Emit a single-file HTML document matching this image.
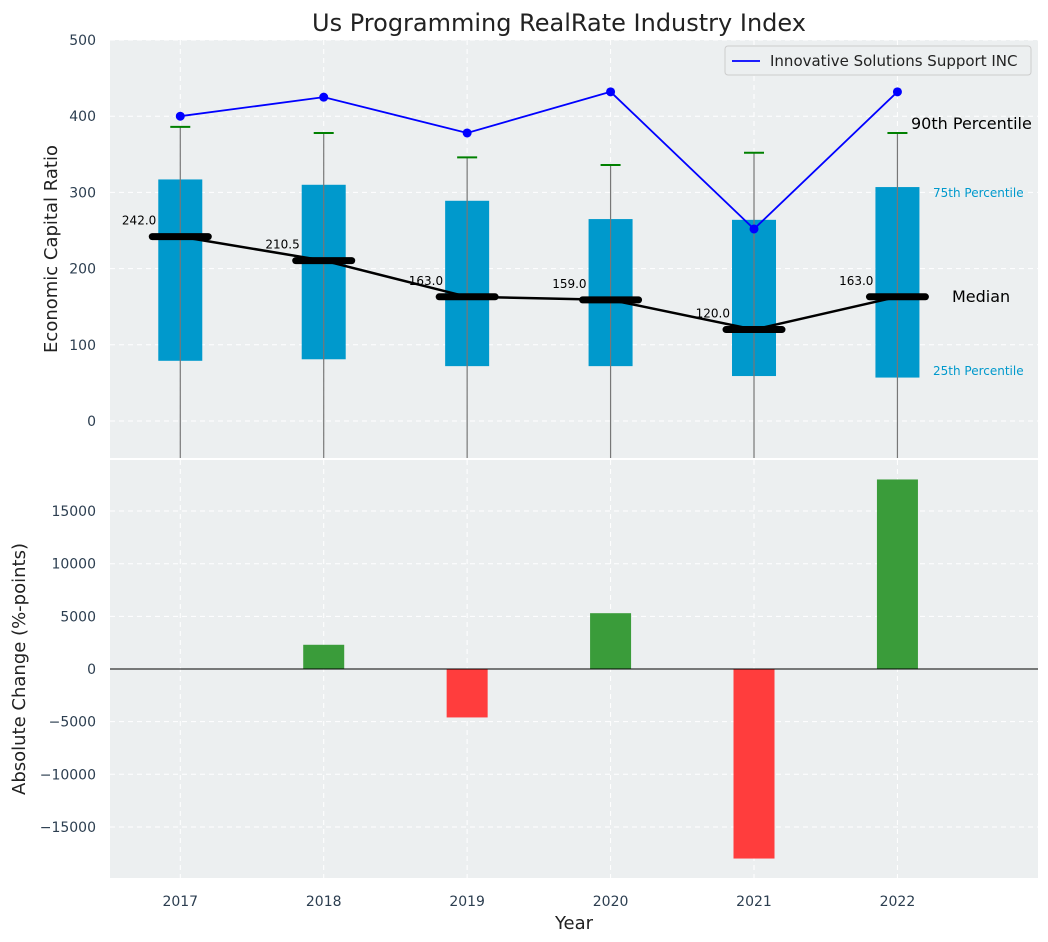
<!DOCTYPE html>
<html><head><meta charset="utf-8"><style>
body{margin:0;background:#fff;font-family:"Liberation Sans","DejaVu Sans",sans-serif;}
svg{display:block}
</style></head><body>
<svg id="c" width="1048" height="942" xmlns="http://www.w3.org/2000/svg" font-family="DejaVu Sans, Liberation Sans, sans-serif">
<text x="559" y="31" font-size="24" text-anchor="middle" fill="#222">Us Programming RealRate Industry Index</text>
<g id="topPanel"></g>
<g id="botPanel"></g>
</svg>
<script>
const years=["2017","2018","2019","2020","2021","2022"];
const q1=[79,81,72,72,59,57];
const q3=[317,310,289,265,264,307];
const med=[242,210.5,163,159,120,163];
const whiskTop=[386,378,346,336,352,378];
const whiskLow=[-120,-120,-120,-120,-120,-120];
const company=[400,425,378,432,252,432];
const changes=[0,2300,-4600,5300,-18000,18000];
const topTicks=[0,100,200,300,400,500];
const botTicks=[-15000,-10000,-5000,0,5000,10000,15000];

const NS="http://www.w3.org/2000/svg";
const L=110,R=1038;
const x=i=>L+(i+0.49)*(R-L)/6.47;
const yT=v=>421-v*0.762;
const yB=v=>669-v*0.01053;
function el(p,t,a,txt){const e=document.createElementNS(NS,t);for(const k in a)e.setAttribute(k,a[k]);if(txt!==undefined)e.textContent=txt;p.appendChild(e);return e;}
const topG=document.getElementById('topPanel'),botG=document.getElementById('botPanel');

let bg=el(topG,'rect',{x:L,y:40,width:R-L,height:418,fill:'#eceff0'});


let bg2=el(botG,'rect',{x:L,y:460,width:R-L,height:418,fill:'#eceff0'});



topTicks.forEach(v=>{
  el(topG,'line',{x1:L,x2:R,y1:yT(v),y2:yT(v),stroke:'#fff','stroke-dasharray':'5,4','stroke-width':1});
  let t=el(topG,'text',{x:96,y:yT(v)+5,'font-size':14,'text-anchor':'end',fill:'#2c3e50'},v);
  
  
});
botTicks.forEach(v=>{
  el(botG,'line',{x1:L,x2:R,y1:yB(v),y2:yB(v),stroke:'#fff','stroke-dasharray':'5,4','stroke-width':1});
  let t=el(botG,'text',{x:96,y:yB(v)+5,'font-size':14,'text-anchor':'end',fill:'#2c3e50'},v<0?'\u2212'+(-v):v);
  
  
});
years.forEach((yv,i)=>{
  el(topG,'line',{x1:x(i),x2:x(i),y1:40,y2:458,stroke:'#fff','stroke-dasharray':'5,4'});
  el(botG,'line',{x1:x(i),x2:x(i),y1:460,y2:878,stroke:'#fff','stroke-dasharray':'5,4'});
  let t=el(botG,'text',{x:x(i),y:906,'font-size':14,'text-anchor':'middle',fill:'#2c3e50'},yv);
  
  
});

const clipTop=el(topG,'clipPath',{id:'ct'});el(clipTop,'rect',{x:L,y:40,width:R-L,height:418});
const g=el(topG,'g',{'clip-path':'url(#ct)'});
years.forEach((yv,i)=>{
  let b=el(g,'rect',{x:x(i)-22,y:yT(q3[i]),width:44,height:yT(q1[i])-yT(q3[i]),fill:'#0099cc'});
  
  
  el(g,'line',{x1:x(i),x2:x(i),y1:yT(whiskTop[i]),y2:yT(whiskLow[i]),stroke:'#777','stroke-width':1.2});
  let c=el(g,'line',{x1:x(i)-10,x2:x(i)+10,y1:yT(whiskTop[i]),y2:yT(whiskTop[i]),stroke:'green','stroke-width':2});
  
  
});
el(g,'polyline',{points:med.map((v,i)=>x(i)+','+yT(v)).join(' '),fill:'none',stroke:'#000','stroke-width':2.5});
years.forEach((yv,i)=>{
  let m=el(g,'line',{x1:x(i)-28,x2:x(i)+28,y1:yT(med[i]),y2:yT(med[i]),stroke:'#000','stroke-width':7,'stroke-linecap':'round'});
  
  
  let t=el(g,'text',{x:x(i)-24,y:yT(med[i])-12,'font-size':12,'text-anchor':'end',fill:'#000'},med[i].toFixed(1));
  
  
});
let cl=el(g,'polyline',{points:company.map((v,i)=>x(i)+','+yT(v)).join(' '),fill:'none',stroke:'blue','stroke-width':1.8});


company.forEach((v,i)=>{
  let p=el(g,'circle',{cx:x(i),cy:yT(v),r:4.5,fill:'blue'});
  
  
});
let a1=el(topG,'text',{x:911,y:129,'font-size':16,fill:'#000'},'90th Percentile');

let a2=el(topG,'text',{x:933,y:197,'font-size':12,fill:'#0099cc'},'75th Percentile');

let a3=el(topG,'text',{x:933,y:375,'font-size':12,fill:'#0099cc'},'25th Percentile');

let a4=el(topG,'text',{x:952,y:302,'font-size':16,fill:'#000'},'Median');

let lg=el(topG,'g',{});


el(lg,'rect',{x:725,y:46,width:306,height:29,rx:3,fill:'#eceff0',stroke:'#ccc'});
el(lg,'line',{x1:732,x2:760,y1:61,y2:61,stroke:'blue','stroke-width':1.8});
el(lg,'text',{x:770,y:66,'font-size':15,fill:'#222'},'Innovative Solutions Support INC');
let yt=el(topG,'text',{x:57,y:249,'font-size':18,'text-anchor':'middle',fill:'#222',transform:'rotate(-90 57 249)'},'Economic Capital Ratio');


changes.forEach((v,i)=>{
  let y0=yB(Math.max(v,0)),h=Math.abs(yB(v)-yB(0));
  let b=el(botG,'rect',{x:x(i)-20.5,y:y0,width:41,height:h,fill:v>=0?'#3a9c3a':'#ff3d3d'});
  
  
});
el(botG,'line',{x1:L,x2:R,y1:yB(0),y2:yB(0),stroke:'#000','stroke-width':1});
let yt2=el(botG,'text',{x:25,y:669,'font-size':18,'text-anchor':'middle',fill:'#222',transform:'rotate(-90 25 669)'},'Absolute Change (%-points)');

let xt=el(botG,'text',{x:574,y:929,'font-size':18,'text-anchor':'middle',fill:'#222'},'Year');

</script>
</body></html>
